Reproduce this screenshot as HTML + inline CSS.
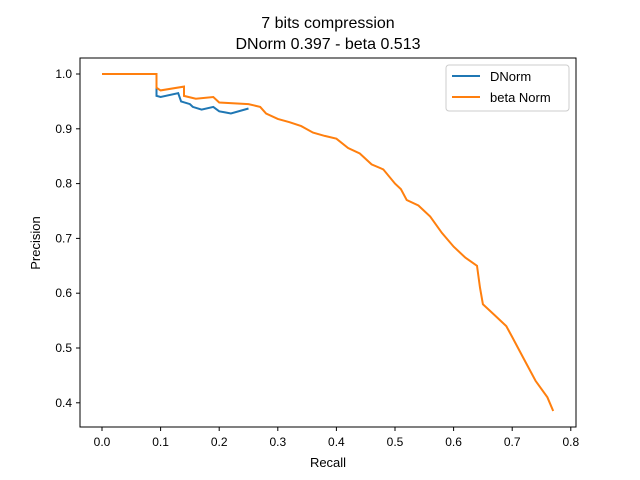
<!DOCTYPE html>
<html><head><meta charset="utf-8"><style>body{margin:0;background:#fff}svg{display:block;font-family:"Liberation Sans","DejaVu Sans",sans-serif}</style></head>
<body>
<svg id="chart" width="640" height="480">
<rect width="640" height="480" fill="#fff"/>
<text x="328" y="28" text-anchor="middle" font-size="16">7 bits compression</text>
<text x="328" y="49" text-anchor="middle" font-size="16">DNorm 0.397 - beta 0.513</text>
<g id="axes"></g>
<g id="series"></g>
<rect x="80" y="58" width="496" height="369" fill="none" stroke="#000" stroke-width="1"/>
<g>
<rect x="446" y="65" width="123" height="46" rx="3" fill="#fff" stroke="#ccc"/>
<line x1="452" y1="76" x2="480" y2="76" stroke="#1f77b4" stroke-width="2"/>
<text x="490" y="81" font-size="13">DNorm</text>
<line x1="452" y1="97" x2="480" y2="97" stroke="#ff7f0e" stroke-width="2"/>
<text x="490" y="102" font-size="13">beta Norm</text>
</g>
<text x="328" y="467" text-anchor="middle" font-size="13">Recall</text>
<text transform="translate(40,243) rotate(-90)" text-anchor="middle" font-size="13">Precision</text>
</svg>
<script>
const xTicks=[0,0.1,0.2,0.3,0.4,0.5,0.6,0.7,0.8];
const yTicks=[0.4,0.5,0.6,0.7,0.8,0.9,1.0];
const dnormRecall=[0,0.093,0.093,0.1,0.13,0.135,0.15,0.155,0.17,0.19,0.2,0.21,0.22,0.25];
const dnormPrecision=[1,1,0.96,0.958,0.965,0.95,0.945,0.94,0.935,0.94,0.932,0.93,0.928,0.937];
const betaRecall=[0,0.093,0.093,0.1,0.14,0.14,0.16,0.19,0.2,0.25,0.27,0.28,0.3,0.32,0.34,0.36,0.38,0.4,0.42,0.44,0.46,0.48,0.5,0.51,0.52,0.54,0.56,0.58,0.6,0.62,0.64,0.645,0.65,0.67,0.69,0.7,0.72,0.74,0.76,0.77];
const betaPrecision=[1,1,0.975,0.97,0.977,0.96,0.955,0.958,0.948,0.945,0.94,0.928,0.918,0.912,0.905,0.893,0.887,0.882,0.865,0.855,0.835,0.826,0.8,0.79,0.77,0.76,0.74,0.71,0.685,0.665,0.65,0.61,0.58,0.56,0.54,0.52,0.48,0.44,0.41,0.385];
const NS="http://www.w3.org/2000/svg";
const sx=v=>102+v*586, sy=v=>74+(1-v)*548;
const axes=document.getElementById('axes');
function mk(t,a,p){const e=document.createElementNS(NS,t);for(const k in a)e.setAttribute(k,a[k]);p.appendChild(e);return e;}
xTicks.forEach(t=>{
 const l=mk('line',{x1:sx(t),x2:sx(t),y1:427,y2:431,stroke:'#000'},axes);
 
 
 const tx=mk('text',{x:sx(t),y:446,'text-anchor':'middle','font-size':12},axes);tx.textContent=t.toFixed(1);
 
 
});
yTicks.forEach(t=>{
 const l=mk('line',{x1:76,x2:80,y1:sy(t),y2:sy(t),stroke:'#000'},axes);
 
 
 const tx=mk('text',{x:72,y:sy(t)+4,'text-anchor':'end','font-size':12},axes);tx.textContent=t.toFixed(1);
 
 
});
const ser=document.getElementById('series');
function line(xs,ys,c,name){
 const pts=xs.map((x,i)=>sx(x).toFixed(1)+','+sy(ys[i]).toFixed(1)).join(' ');
 const p=mk('polyline',{points:pts,fill:'none',stroke:c,'stroke-width':2,'stroke-linejoin':'miter'},ser);
 
 
}
line(dnormRecall,dnormPrecision,'#1f77b4','dnorm-line');
line(betaRecall,betaPrecision,'#ff7f0e','beta-norm-line');
</script>
</body></html>
